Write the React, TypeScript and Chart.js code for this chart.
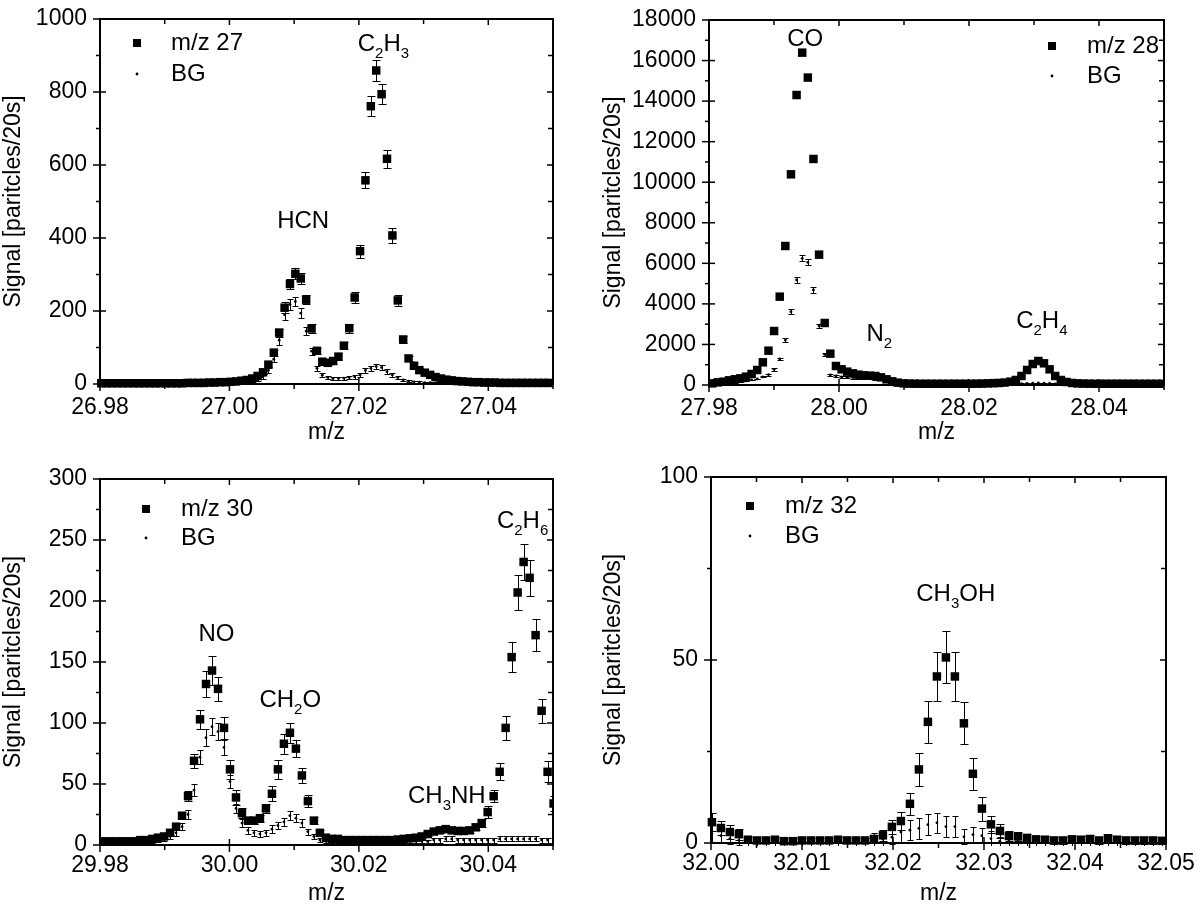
import React, { useEffect, useRef } from 'react';
import { Chart, registerables } from 'chart.js';

Chart.register(...registerables);
Chart.defaults.font.family = '"Liberation Sans", Arial, sans-serif';
Chart.defaults.color = '#000';

// ---------- m/z 27 ----------
const MZ27_START = 26.9802;
const MZ27_STEP = 0.000833;
const MZ27_SIGNAL = [
  2, 2, 2, 2, 2, 2, 2, 2, 2, 2,
  2, 2, 2, 2, 2, 2, 3, 3, 3, 3,
  4, 4, 5, 5, 6, 7, 9, 11, 15, 22,
  32, 53, 86, 141, 209, 274, 302, 289, 231, 152,
  91, 61, 58, 63, 75, 105, 153, 237, 364, 558,
  761, 859, 794, 617, 407, 229, 122, 70, 50, 38,
  31, 25, 19, 15, 12, 10, 8, 7, 6, 5,
  5, 4, 4, 4, 3, 3, 3, 3, 3, 3,
  3, 3, 3, 3,
];
const MZ27_SIGNAL_ERR = [
  1, 1, 1, 1, 1, 1, 1, 1, 1, 1,
  1, 1, 1, 1, 1, 1, 1, 1, 1, 1,
  1, 1, 1, 1, 1, 2, 2, 2, 3, 3,
  4, 6, 8, 11, 15, 14, 15, 15, 13, 12,
  9, 7, 7, 7, 8, 10, 12, 14, 18, 22,
  27, 28, 28, 25, 20, 14, 10, 8, 7, 6,
  5, 5, 4, 4, 3, 3, 3, 3, 2, 2,
  2, 2, 2, 2, 2, 2, 2, 2, 2, 2,
  2, 2, 2, 2,
];
const MZ27_BG = [
  1, 1, 1, 1, 1, 1, 1, 1, 1, 1,
  1, 1, 1, 1, 1, 1, 2, 2, 2, 2,
  2, 3, 3, 3, 4, 4, 5, 6, 8, 12,
  20, 38, 68, 120, 190, 218, 226, 194, 145, 90,
  43, 24, 18, 15, 15, 16, 18, 20, 25, 37,
  43, 48, 45, 34, 25, 18, 11, 8, 6, 5,
  4, 4, 3, 3, 3, 3, 2, 2, 2, 2,
  2, 2, 2, 2, 2, 2, 2, 2, 2, 2,
  2, 2, 2, 2,
];
const MZ27_BG_ERR = [
  1, 1, 1, 1, 1, 1, 1, 1, 1, 1,
  1, 1, 1, 1, 1, 1, 1, 1, 1, 1,
  1, 1, 1, 1, 1, 2, 2, 2, 3, 4,
  5, 7, 9, 12, 14, 14, 13, 13, 12, 10,
  7, 5, 4, 4, 4, 4, 4, 5, 5, 6,
  7, 8, 7, 6, 5, 4, 3, 3, 2, 2,
  2, 2, 2, 2, 2, 2, 2, 2, 2, 2,
  1, 1, 1, 1, 1, 1, 1, 1, 1, 1,
  1, 1, 1, 1,
];
const MZ27_X_TICKS = [26.98, 27.0, 27.02, 27.04];
const MZ27_Y_TICKS = [0, 200, 400, 600, 800, 1000];
const MZ27_LABELS = ['C_2H_3', 'HCN'];
const MZ27_LABEL_X = [27.0238, 27.0114];
const MZ27_LABEL_Y = [912, 427];

// ---------- m/z 28 ----------
const MZ28_START = 27.9805;
const MZ28_STEP = 0.000865;
const MZ28_SIGNAL = [
  82, 131, 164, 230, 280, 329, 411, 543, 740, 1118,
  1693, 2663, 4356, 6855, 10390, 14300, 16390, 15160, 11146, 6428,
  3058, 1545, 937, 773, 658, 575, 510, 477, 460, 444,
  378, 280, 181, 115, 82, 70, 65, 60, 60, 60,
  60, 60, 60, 60, 60, 60, 62, 65, 70, 80,
  90, 100, 120, 164, 247, 444, 740, 1036, 1184, 1069,
  773, 444, 247, 148, 100, 80, 70, 65, 60, 60,
  60, 60, 60, 60, 60, 60, 60, 60, 60, 60,
  60,
];
const MZ28_SIGNAL_ERR: number[] = [];
const MZ28_BG = [
  40, 60, 80, 100, 130, 160, 200, 250, 296, 400,
  510, 773, 1282, 2219, 3617, 5179, 6247, 6050, 4685, 2910,
  1512, 493, 444, 400, 380, 370, 360, 350, 340, 320,
  280, 200, 130, 90, 60, 40, 40, 40, 40, 40,
  40, 40, 40, 40, 40, 40, 40, 40, 40, 40,
  40, 40, 45, 50, 60, 70, 80, 90, 100, 90,
  80, 60, 50, 40, 40, 40, 40, 40, 40, 40,
  40, 40, 40, 40, 40, 40, 40, 40, 40, 40,
  40,
];
const MZ28_BG_ERR = [
  20, 20, 20, 20, 20, 20, 20, 20, 20, 20,
  50, 60, 70, 90, 120, 140, 150, 150, 130, 100,
  80, 50, 50, 50, 50, 50, 50, 50, 50, 50,
  20, 20, 20, 20, 20, 20, 20, 20, 20, 20,
  20, 20, 20, 20, 20, 20, 20, 20, 20, 20,
  20, 20, 20, 20, 20, 20, 20, 20, 20, 20,
  20, 20, 20, 20, 20, 20, 20, 20, 20, 20,
  20, 20, 20, 20, 20, 20, 20, 20, 20, 20,
  20,
];
const MZ28_X_TICKS = [27.98, 28.0, 28.02, 28.04];
const MZ28_Y_TICKS = [0, 2000, 4000, 6000, 8000, 10000, 12000, 14000, 16000, 18000];
const MZ28_LABELS = ['CO', 'N_2', 'C_2H_4'];
const MZ28_LABEL_X = [27.9948, 28.0062, 28.0312];
const MZ28_LABEL_Y = [16718, 2170, 2811];

// ---------- m/z 30 ----------
const MZ30_START = 29.98064;
const MZ30_STEP = 0.000926;
const MZ30_SIGNAL = [
  3, 3, 3, 3, 3, 3, 4, 4, 5, 6,
  7, 10, 15, 24, 40, 69, 103, 132, 143, 128,
  96, 62, 39, 26, 20, 20, 22, 30, 42, 62,
  83, 92, 79, 57, 36, 20, 10, 6, 5, 5,
  4, 4, 4, 4, 4, 4, 4, 4, 4, 4.5,
  5, 5.5, 6, 7, 9, 11, 12, 13, 12, 11.5,
  11.5, 12, 14.5, 18, 27, 40, 60, 96, 154, 207,
  232, 219, 172, 110, 60, 34,
];
const MZ30_SIGNAL_ERR = [
  1, 1, 1, 1, 1, 1, 1, 1, 1, 1,
  1.5, 2, 2.5, 3, 4, 6, 8, 11, 12, 10,
  9, 8, 6, 4, 3, 3, 3, 4, 6, 8,
  8, 8, 7, 6, 5, 3, 2, 1.5, 1.5, 1.5,
  1, 1, 1, 1, 1, 1, 1, 1, 1, 1,
  1, 1, 1, 1.5, 2, 2, 2, 2, 2, 2,
  2, 2, 2.5, 3, 5, 5, 7, 10, 12.5, 14.5,
  15, 15, 13, 10, 8.5, 6,
];
const MZ30_BG = [
  2, 2, 2, 2, 2, 2, 2, 3, 3, 4,
  5, 7, 10, 15, 25, 45, 72, 88, 97, 93,
  80, 52, 30, 18, 12, 10, 9, 10, 13, 16,
  19, 24, 22, 18, 11, 7, 4, 3, 3, 3,
  3, 3, 3, 3, 3, 3, 3, 3, 3, 3,
  3, 3, 3, 3, 3, 4, 4, 5, 5, 4,
  4, 4, 4, 4, 4, 4, 5, 5, 5, 5,
  5, 5, 5, 4, 4, 4,
];
const MZ30_BG_ERR = [
  1, 1, 1, 1, 1, 1, 1, 1, 1, 1.5,
  1.5, 2, 2.5, 3, 4, 5, 6, 7, 7, 7,
  6, 5, 4, 3, 3, 2.5, 2.5, 2.5, 3, 3,
  3.5, 3.5, 3.5, 3, 2.5, 2, 1.5, 1.5, 1.5, 1.5,
  1.5, 1.5, 1.5, 1.5, 1.5, 1.5, 1.5, 1.5, 1.5, 1.5,
  1.5, 1.5, 1.5, 1.5, 1.5, 2, 2, 2, 2, 2,
  2, 2, 2, 2, 2, 2, 2, 2, 2, 2,
  2, 2, 2, 2, 2, 2,
];
const MZ30_X_TICKS = [29.98, 30.0, 30.02, 30.04];
const MZ30_Y_TICKS = [0, 50, 100, 150, 200, 250, 300];
const MZ30_LABELS = ['NO', 'CH_2O', 'CH_3NH', 'C_2H_6'];
const MZ30_LABEL_X = [29.998, 30.0094, 30.0336, 30.0453];
const MZ30_LABEL_Y = [167, 113, 34.4, 260];

// ---------- m/z 32 ----------
const MZ32_START = 32.0001;
const MZ32_STEP = 0.000989;
const MZ32_SIGNAL = [
  5.7, 4.1, 3.0, 2.4, 0.9, 0.7, 0.7, 0.9, 0.5, 0.5,
  0.7, 0.7, 0.7, 0.7, 0.9, 0.7, 0.7, 0.7, 1.1, 2.1,
  4.4, 6.0, 10.7, 20.1, 33.1, 45.5, 50.7, 45.5, 32.7, 18.9,
  9.4, 5.1, 3.3, 1.9, 1.8, 1.4, 1.0, 0.9, 0.7, 0.7,
  1.0, 0.9, 1.1, 0.7, 1.3, 0.9, 0.7, 0.7, 0.7, 0.7,
  0.6,
];
const MZ32_SIGNAL_ERR = [
  2.5, 2, 2, 1.5, 0.8, 0.8, 0.8, 0.8, 0.8, 0.8,
  0.8, 0.8, 0.8, 0.8, 0.8, 0.8, 0.8, 0.8, 1, 1.5,
  2, 2.5, 3, 4.5, 5.8, 6.6, 7.1, 6.6, 5.7, 4.3,
  3.3, 2.3, 1.8, 1.3, 1.3, 1, 1, 1, 1, 1,
  1, 1, 1, 1, 1, 1, 1, 1, 1, 1,
  1,
];
const MZ32_BG = [
  2.5, 2, 1.2, 0.7, 0.5, 0.5, 0.5, 0.5, 0.5, 0.5,
  0.5, 0.5, 0.5, 0.5, 0.5, 0.5, 0.5, 0.5, 0.6, 1,
  1.6, 3, 3.5, 4, 5, 5.5, 4.5, 4.5, 1.7, 2.3,
  2, 1.2, 0.5, 0.5, 0.5, 0.5, 0.5, 0.5, 0.5, 0.5,
  0.5, 0.5, 0.5, 0.5, 0.5, 0.5, 0.5, 0.5, 0.5, 0.5,
  0.5,
];
const MZ32_BG_ERR = [
  2.5, 2, 1.5, 1.2, 1.2, 1.2, 1.2, 1.2, 1.2, 1.2,
  1.2, 1.2, 1.2, 1.2, 1.2, 1.2, 1.2, 1.2, 2, 2,
  2, 2.8, 2.8, 2.8, 2.8, 2.8, 2.8, 2.8, 2, 2,
  2, 2, 1.2, 1.2, 1.2, 1.2, 1.2, 1.2, 1.2, 1.2,
  1.2, 1.2, 1.2, 1.2, 1.2, 1.2, 1.2, 1.2, 1.2, 1.2,
  1.2,
];
const MZ32_X_TICKS = [32.0, 32.01, 32.02, 32.03, 32.04, 32.05];
const MZ32_Y_TICKS = [0, 50, 100];
const MZ32_LABELS = ['CH_3OH'];
const MZ32_LABEL_X = [32.0269];
const MZ32_LABEL_Y = [66.1];

const Y_TITLE = 'Signal [paritcles/20s]';
const X_TITLE = 'm/z';
const FONT = '"Liberation Sans", Arial, sans-serif';

interface PanelDef {
  left: number;
  top: number;
  width: number;
  height: number;
  area: { left: number; top: number; right: number; bottom: number };
  start: number;
  step: number;
  signal: number[];
  signalErr: number[];
  bg: number[];
  bgErr: number[];
  name: string;
  xMin: number;
  xMax: number;
  yMax: number;
  xTicks: number[];
  yTicks: number[];
  labels: string[];
  labelX: number[];
  labelY: number[];
  legend: { side: 'left' | 'right'; dx: number; dy: number; textDx: number; rowGap: number };
  xTickPad: number;
  xTitlePad: number;
}

const PANELS: PanelDef[] = [
  {
    left: 0, top: 0, width: 600, height: 452,
    area: { left: 100, top: 19, right: 553, bottom: 384 },
    start: MZ27_START, step: MZ27_STEP,
    signal: MZ27_SIGNAL, signalErr: MZ27_SIGNAL_ERR, bg: MZ27_BG, bgErr: MZ27_BG_ERR,
    name: 'm/z 27', xMin: 26.98, xMax: 27.05, yMax: 1000,
    xTicks: MZ27_X_TICKS, yTicks: MZ27_Y_TICKS,
    labels: MZ27_LABELS, labelX: MZ27_LABEL_X, labelY: MZ27_LABEL_Y,
    legend: { side: 'left', dx: 37, dy: 24, textDx: 34, rowGap: 31 },
    xTickPad: 12, xTitlePad: 8,
  },
  {
    left: 600, top: 0, width: 600, height: 452,
    area: { left: 109, top: 20, right: 564, bottom: 385 },
    start: MZ28_START, step: MZ28_STEP,
    signal: MZ28_SIGNAL, signalErr: MZ28_SIGNAL_ERR, bg: MZ28_BG, bgErr: MZ28_BG_ERR,
    name: 'm/z 28', xMin: 27.98, xMax: 28.05, yMax: 18000,
    xTicks: MZ28_X_TICKS, yTicks: MZ28_Y_TICKS,
    labels: MZ28_LABELS, labelX: MZ28_LABEL_X, labelY: MZ28_LABEL_Y,
    legend: { side: 'right', dx: 112, dy: 26, textDx: 35, rowGap: 30 },
    xTickPad: 12, xTitlePad: 8,
  },
  {
    left: 0, top: 452, width: 600, height: 453,
    area: { left: 100, top: 27, right: 553, bottom: 393 },
    start: MZ30_START, step: MZ30_STEP,
    signal: MZ30_SIGNAL, signalErr: MZ30_SIGNAL_ERR, bg: MZ30_BG, bgErr: MZ30_BG_ERR,
    name: 'm/z 30', xMin: 29.98, xMax: 30.05, yMax: 300,
    xTicks: MZ30_X_TICKS, yTicks: MZ30_Y_TICKS,
    labels: MZ30_LABELS, labelX: MZ30_LABEL_X, labelY: MZ30_LABEL_Y,
    legend: { side: 'left', dx: 46, dy: 30, textDx: 35, rowGap: 29 },
    xTickPad: 9, xTitlePad: 0,
  },
  {
    left: 600, top: 452, width: 600, height: 453,
    area: { left: 111, top: 25, right: 566, bottom: 391 },
    start: MZ32_START, step: MZ32_STEP,
    signal: MZ32_SIGNAL, signalErr: MZ32_SIGNAL_ERR, bg: MZ32_BG, bgErr: MZ32_BG_ERR,
    name: 'm/z 32', xMin: 32.0, xMax: 32.05, yMax: 100,
    xTicks: MZ32_X_TICKS, yTicks: MZ32_Y_TICKS,
    labels: MZ32_LABELS, labelX: MZ32_LABEL_X, labelY: MZ32_LABEL_Y,
    legend: { side: 'left', dx: 39, dy: 29, textDx: 35, rowGap: 30 },
    xTickPad: 9, xTitlePad: 0,
  },
];

// midpoints between major ticks, plus one past the last if it still fits
function minorTicks(major: number[], max: number) {
  const out: number[] = [];
  for (let i = 0; i < major.length - 1; i++) out.push((major[i] + major[i + 1]) / 2);
  const half = (major[1] - major[0]) / 2;
  const next = major[major.length - 1] + half;
  if (next <= max + 1e-9) out.push(next);
  return out;
}

// 'C_2H_3' -> C, 2 (sub), H, 3 (sub)
function splitFormula(s: string) {
  const parts: { t: string; sub: boolean }[] = [];
  for (let i = 0; i < s.length; i++) {
    if (s[i] === '_') {
      parts.push({ t: s[i + 1], sub: true });
      i++;
    } else {
      const last = parts[parts.length - 1];
      if (last && !last.sub) last.t += s[i];
      else parts.push({ t: s[i], sub: false });
    }
  }
  return parts;
}

function decorPlugin(p: PanelDef) {
  return {
    id: 'decor',
    beforeDatasetsDraw(chart: Chart) {
      const { ctx, chartArea: a } = chart;
      const xs = chart.scales.x;
      const ys = chart.scales.y;
      ctx.save();
      ctx.beginPath();
      ctx.rect(a.left, a.top, a.right - a.left, a.bottom - a.top + 3);
      ctx.clip();
      ctx.strokeStyle = '#000';
      ctx.lineWidth = 1;
      const drawErr = (vals: number[], errs: number[], cap: number) => {
        vals.forEach((v, i) => {
          const e = errs[i];
          if (!e) return;
          const x = Math.round(xs.getPixelForValue(p.start + i * p.step)) + 0.5;
          const y1 = Math.round(ys.getPixelForValue(v + e)) + 0.5;
          const y2 = Math.round(ys.getPixelForValue(v - e)) + 0.5;
          ctx.beginPath();
          ctx.moveTo(x, y1);
          ctx.lineTo(x, y2);
          ctx.moveTo(x - cap, y1);
          ctx.lineTo(x + cap, y1);
          ctx.moveTo(x - cap, y2);
          ctx.lineTo(x + cap, y2);
          ctx.stroke();
        });
      };
      drawErr(p.bg, p.bgErr, 3);
      drawErr(p.signal, p.signalErr, 4);
      ctx.restore();
    },
    afterDraw(chart: Chart) {
      const { ctx, chartArea: a } = chart;
      const xs = chart.scales.x;
      const ys = chart.scales.y;
      ctx.save();
      ctx.strokeStyle = '#000';
      ctx.fillStyle = '#000';

      // frame
      ctx.lineWidth = 2;
      ctx.strokeRect(a.left, a.top, a.right - a.left, a.bottom - a.top);

      // ticks on all four sides
      ctx.lineWidth = 1.5;
      const line = (x1: number, y1: number, x2: number, y2: number) => {
        ctx.beginPath();
        ctx.moveTo(x1, y1);
        ctx.lineTo(x2, y2);
        ctx.stroke();
      };
      p.xTicks.forEach((v) => {
        const x = xs.getPixelForValue(v);
        line(x, a.bottom - 6, x, a.bottom + 7);
        line(x, a.top, x, a.top + 6);
      });
      minorTicks(p.xTicks, p.xMax).forEach((v) => {
        const x = xs.getPixelForValue(v);
        line(x, a.bottom, x, a.bottom + 5);
        line(x, a.top, x, a.top + 5);
      });
      p.yTicks.forEach((v) => {
        const y = ys.getPixelForValue(v);
        line(a.left - 7, y, a.left + 6, y);
        line(a.right - 6, y, a.right, y);
      });
      minorTicks(p.yTicks, p.yMax).forEach((v) => {
        const y = ys.getPixelForValue(v);
        line(a.left - 4, y, a.left, y);
        line(a.right - 5, y, a.right, y);
      });

      // legend inside the plot box
      const lg = p.legend;
      const lx = lg.side === 'left' ? a.left + lg.dx : a.right - lg.dx;
      const ly = a.top + lg.dy;
      ctx.fillRect(lx - 4, ly - 4, 8, 8);
      ctx.beginPath();
      ctx.arc(lx, ly + lg.rowGap, 1.4, 0, Math.PI * 2);
      ctx.fill();
      ctx.font = `24px ${FONT}`;
      ctx.textAlign = 'left';
      ctx.textBaseline = 'middle';
      ctx.fillText(p.name, lx + lg.textDx, ly);
      ctx.fillText('BG', lx + lg.textDx, ly + lg.rowGap);

      // peak labels with subscripts
      ctx.textBaseline = 'alphabetic';
      p.labels.forEach((lab, i) => {
        const parts = splitFormula(lab);
        const widths = parts.map((pt) => {
          ctx.font = pt.sub ? `15px ${FONT}` : `24px ${FONT}`;
          return ctx.measureText(pt.t).width;
        });
        const total = widths.reduce((s, w) => s + w, 0);
        let x = xs.getPixelForValue(p.labelX[i]) - total / 2;
        const y = ys.getPixelForValue(p.labelY[i]);
        parts.forEach((pt, k) => {
          ctx.font = pt.sub ? `15px ${FONT}` : `24px ${FONT}`;
          ctx.fillText(pt.t, x, pt.sub ? y + 7 : y);
          x += widths[k];
        });
      });
      ctx.restore();
    },
  };
}

const SpectrumPanel: React.FC<{ p: PanelDef }> = ({ p }) => {
  const canvasRef = useRef<HTMLCanvasElement>(null);

  useEffect(() => {
    if (!canvasRef.current) return;
    const xOf = (i: number) => p.start + i * p.step;
    const chart = new Chart(canvasRef.current, {
      type: 'scatter',
      data: {
        datasets: [
          {
            label: p.name,
            data: p.signal.map((v, i) => ({ x: xOf(i), y: v })),
            pointStyle: 'rect',
            pointRadius: 6,
            pointBackgroundColor: '#000',
            pointBorderWidth: 0,
            showLine: false,
            clip: { left: 8, top: 8, right: 0, bottom: 8 },
          },
          {
            label: 'BG',
            data: p.bg.map((v, i) => ({ x: xOf(i), y: v })),
            pointStyle: 'circle',
            pointRadius: 1.4,
            pointBackgroundColor: '#000',
            pointBorderWidth: 0,
            showLine: false,
            clip: { left: 8, top: 8, right: 0, bottom: 8 },
          },
        ],
      },
      options: {
        responsive: false,
        animation: false,
        events: [],
        layout: {
          padding: { left: 0, top: p.area.top, right: p.width - p.area.right, bottom: 0 },
        },
        plugins: {
          legend: { display: false },
          tooltip: { enabled: false },
        },
        scales: {
          x: {
            type: 'linear',
            min: p.xMin,
            max: p.xMax,
            grid: { display: false, drawTicks: false },
            border: { display: false },
            afterBuildTicks: (s: any) => {
              s.ticks = p.xTicks.map((v) => ({ value: v }));
            },
            afterFit: (s: any) => {
              s.height = p.height - p.area.bottom;
              s.paddingLeft = 0;
              s.paddingRight = 0;
            },
            ticks: {
              autoSkip: false,
              maxRotation: 0,
              padding: p.xTickPad,
              font: { size: 23, lineHeight: 1 },
              callback: (v: any) => Number(v).toFixed(2),
            },
            title: {
              display: true,
              text: X_TITLE,
              font: { size: 23, lineHeight: 1 },
              padding: { top: 0, bottom: p.xTitlePad },
            },
          },
          y: {
            type: 'linear',
            min: 0,
            max: p.yMax,
            grid: { display: false, drawTicks: false },
            border: { display: false },
            afterBuildTicks: (s: any) => {
              s.ticks = p.yTicks.map((v) => ({ value: v }));
            },
            afterFit: (s: any) => {
              s.width = p.area.left;
              s.paddingTop = 0;
              s.paddingBottom = 0;
            },
            ticks: {
              autoSkip: false,
              padding: 13,
              font: { size: 23, lineHeight: 1 },
              callback: (v: any) => String(v),
            },
            title: {
              display: true,
              text: Y_TITLE,
              font: { size: 23, lineHeight: 1 },
              padding: { top: 2, bottom: 0 },
            },
          },
        },
      },
      plugins: [decorPlugin(p)],
    });

    return () => {
      chart.destroy();
    };
  }, [p]);

  return (
    <canvas
      ref={canvasRef}
      width={p.width}
      height={p.height}
      style={{ position: 'absolute', left: p.left, top: p.top, width: p.width, height: p.height }}
    />
  );
};

const App: React.FC = () => {
  return (
    <div style={{ position: 'absolute', left: 0, top: 0, width: 1200, height: 905, background: '#fff' }}>
      {PANELS.map((p) => (
        <SpectrumPanel key={p.name} p={p} />
      ))}
    </div>
  );
};

export default App;
